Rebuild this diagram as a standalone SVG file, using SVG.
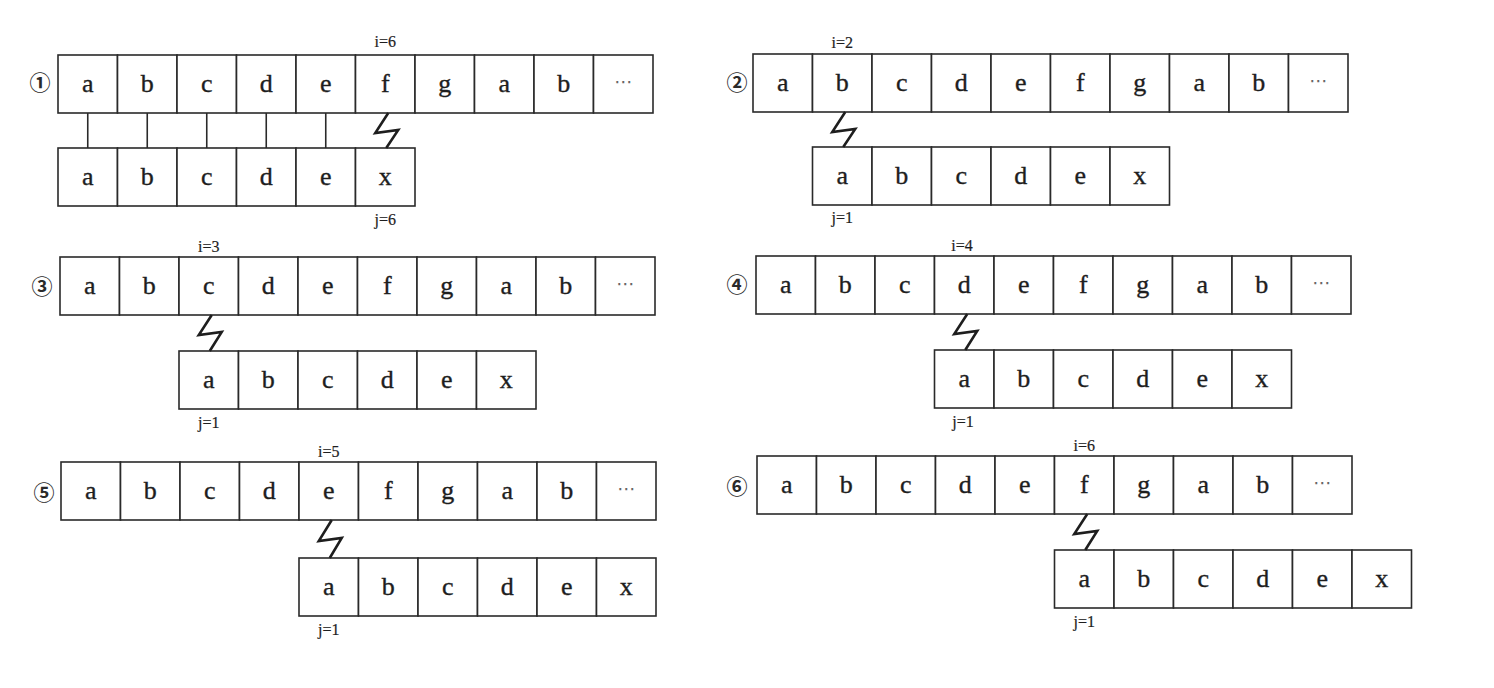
<svg xmlns="http://www.w3.org/2000/svg" width="1494" height="688" viewBox="0 0 1494 688">
<style>
.c{fill:#fff;stroke:#2a2a2a;stroke-width:1.6}
.t{font-family:"Liberation Serif","Times New Roman",serif;font-size:26px;fill:#1e1e1e;stroke:#1e1e1e;stroke-width:0.35;text-anchor:middle}
.d{font-family:"DejaVu Sans",sans-serif;font-size:18px;fill:#666;text-anchor:middle}
.l{font-family:"Liberation Serif","Times New Roman",serif;font-size:16px;fill:#1e1e1e;stroke:#1e1e1e;stroke-width:0.2;text-anchor:middle}
.n{font-family:"Noto Sans CJK SC","DejaVu Sans",sans-serif;font-size:21px;font-weight:700;fill:#2a2a2a;text-anchor:middle}
.v{stroke:#2a2a2a;stroke-width:1.6;fill:none}
.z{stroke:#1e1e1e;stroke-width:2.6;fill:none;stroke-linejoin:miter}
</style>
<rect width="1494" height="688" fill="#fff"/>

<g id="panel1">
<text class="n" x="40" y="90">①</text>
<text class="l" x="385.25" y="47">i=6</text>
<g id="p1-main">
<rect class="c" x="58" y="55" width="59.5" height="58"/><text class="t" x="87.75" y="92">a</text>
<rect class="c" x="117.5" y="55" width="59.5" height="58"/><text class="t" x="147.25" y="92">b</text>
<rect class="c" x="177" y="55" width="59.5" height="58"/><text class="t" x="206.75" y="92">c</text>
<rect class="c" x="236.5" y="55" width="59.5" height="58"/><text class="t" x="266.25" y="92">d</text>
<rect class="c" x="296" y="55" width="59.5" height="58"/><text class="t" x="325.75" y="92">e</text>
<rect class="c" x="355.5" y="55" width="59.5" height="58"/><text class="t" x="385.25" y="92">f</text>
<rect class="c" x="415" y="55" width="59.5" height="58"/><text class="t" x="444.75" y="92">g</text>
<rect class="c" x="474.5" y="55" width="59.5" height="58"/><text class="t" x="504.25" y="92">a</text>
<rect class="c" x="534" y="55" width="59.5" height="58"/><text class="t" x="563.75" y="92">b</text>
<rect class="c" x="593.5" y="55" width="59.5" height="58"/><text class="d" x="623.25" y="88">⋯</text>
</g>
<g id="p1-pattern">
<rect class="c" x="58" y="148" width="59.5" height="58"/><text class="t" x="87.75" y="185">a</text>
<rect class="c" x="117.5" y="148" width="59.5" height="58"/><text class="t" x="147.25" y="185">b</text>
<rect class="c" x="177" y="148" width="59.5" height="58"/><text class="t" x="206.75" y="185">c</text>
<rect class="c" x="236.5" y="148" width="59.5" height="58"/><text class="t" x="266.25" y="185">d</text>
<rect class="c" x="296" y="148" width="59.5" height="58"/><text class="t" x="325.75" y="185">e</text>
<rect class="c" x="355.5" y="148" width="59.5" height="58"/><text class="t" x="385.25" y="185">x</text>
</g>
<text class="l" x="385.25" y="225">j=6</text>
</g>

<g id="panel2">
<text class="n" x="737" y="90">②</text>
<text class="l" x="842.25" y="48">i=2</text>
<g id="p2-main">
<rect class="c" x="753" y="54" width="59.5" height="58"/><text class="t" x="782.75" y="91">a</text>
<rect class="c" x="812.5" y="54" width="59.5" height="58"/><text class="t" x="842.25" y="91">b</text>
<rect class="c" x="872" y="54" width="59.5" height="58"/><text class="t" x="901.75" y="91">c</text>
<rect class="c" x="931.5" y="54" width="59.5" height="58"/><text class="t" x="961.25" y="91">d</text>
<rect class="c" x="991" y="54" width="59.5" height="58"/><text class="t" x="1020.75" y="91">e</text>
<rect class="c" x="1050.5" y="54" width="59.5" height="58"/><text class="t" x="1080.25" y="91">f</text>
<rect class="c" x="1110" y="54" width="59.5" height="58"/><text class="t" x="1139.75" y="91">g</text>
<rect class="c" x="1169.5" y="54" width="59.5" height="58"/><text class="t" x="1199.25" y="91">a</text>
<rect class="c" x="1229" y="54" width="59.5" height="58"/><text class="t" x="1258.75" y="91">b</text>
<rect class="c" x="1288.5" y="54" width="59.5" height="58"/><text class="d" x="1318.25" y="87">⋯</text>
</g>
<g id="p2-pattern">
<rect class="c" x="812.5" y="147" width="59.5" height="58"/><text class="t" x="842.25" y="184">a</text>
<rect class="c" x="872" y="147" width="59.5" height="58"/><text class="t" x="901.75" y="184">b</text>
<rect class="c" x="931.5" y="147" width="59.5" height="58"/><text class="t" x="961.25" y="184">c</text>
<rect class="c" x="991" y="147" width="59.5" height="58"/><text class="t" x="1020.75" y="184">d</text>
<rect class="c" x="1050.5" y="147" width="59.5" height="58"/><text class="t" x="1080.25" y="184">e</text>
<rect class="c" x="1110" y="147" width="59.5" height="58"/><text class="t" x="1139.75" y="184">x</text>
</g>
<text class="l" x="842.25" y="223">j=1</text>
</g>

<g id="panel3">
<text class="n" x="42" y="294">③</text>
<text class="l" x="208.75" y="252">i=3</text>
<g id="p3-main">
<rect class="c" x="60" y="257" width="59.5" height="58"/><text class="t" x="89.75" y="294">a</text>
<rect class="c" x="119.5" y="257" width="59.5" height="58"/><text class="t" x="149.25" y="294">b</text>
<rect class="c" x="179" y="257" width="59.5" height="58"/><text class="t" x="208.75" y="294">c</text>
<rect class="c" x="238.5" y="257" width="59.5" height="58"/><text class="t" x="268.25" y="294">d</text>
<rect class="c" x="298" y="257" width="59.5" height="58"/><text class="t" x="327.75" y="294">e</text>
<rect class="c" x="357.5" y="257" width="59.5" height="58"/><text class="t" x="387.25" y="294">f</text>
<rect class="c" x="417" y="257" width="59.5" height="58"/><text class="t" x="446.75" y="294">g</text>
<rect class="c" x="476.5" y="257" width="59.5" height="58"/><text class="t" x="506.25" y="294">a</text>
<rect class="c" x="536" y="257" width="59.5" height="58"/><text class="t" x="565.75" y="294">b</text>
<rect class="c" x="595.5" y="257" width="59.5" height="58"/><text class="d" x="625.25" y="290">⋯</text>
</g>
<g id="p3-pattern">
<rect class="c" x="179" y="351" width="59.5" height="58"/><text class="t" x="208.75" y="388">a</text>
<rect class="c" x="238.5" y="351" width="59.5" height="58"/><text class="t" x="268.25" y="388">b</text>
<rect class="c" x="298" y="351" width="59.5" height="58"/><text class="t" x="327.75" y="388">c</text>
<rect class="c" x="357.5" y="351" width="59.5" height="58"/><text class="t" x="387.25" y="388">d</text>
<rect class="c" x="417" y="351" width="59.5" height="58"/><text class="t" x="446.75" y="388">e</text>
<rect class="c" x="476.5" y="351" width="59.5" height="58"/><text class="t" x="506.25" y="388">x</text>
</g>
<text class="l" x="208.75" y="428">j=1</text>
</g>

<g id="panel4">
<text class="n" x="737" y="292">④</text>
<text class="l" x="962" y="251">i=4</text>
<g id="p4-main">
<rect class="c" x="756" y="256" width="59.5" height="58"/><text class="t" x="785.75" y="293">a</text>
<rect class="c" x="815.5" y="256" width="59.5" height="58"/><text class="t" x="845.25" y="293">b</text>
<rect class="c" x="875" y="256" width="59.5" height="58"/><text class="t" x="904.75" y="293">c</text>
<rect class="c" x="934.5" y="256" width="59.5" height="58"/><text class="t" x="964.25" y="293">d</text>
<rect class="c" x="994" y="256" width="59.5" height="58"/><text class="t" x="1023.75" y="293">e</text>
<rect class="c" x="1053.5" y="256" width="59.5" height="58"/><text class="t" x="1083.25" y="293">f</text>
<rect class="c" x="1113" y="256" width="59.5" height="58"/><text class="t" x="1142.75" y="293">g</text>
<rect class="c" x="1172.5" y="256" width="59.5" height="58"/><text class="t" x="1202.25" y="293">a</text>
<rect class="c" x="1232" y="256" width="59.5" height="58"/><text class="t" x="1261.75" y="293">b</text>
<rect class="c" x="1291.5" y="256" width="59.5" height="58"/><text class="d" x="1321.25" y="289">⋯</text>
</g>
<g id="p4-pattern">
<rect class="c" x="934.5" y="350" width="59.5" height="58"/><text class="t" x="964.25" y="387">a</text>
<rect class="c" x="994" y="350" width="59.5" height="58"/><text class="t" x="1023.75" y="387">b</text>
<rect class="c" x="1053.5" y="350" width="59.5" height="58"/><text class="t" x="1083.25" y="387">c</text>
<rect class="c" x="1113" y="350" width="59.5" height="58"/><text class="t" x="1142.75" y="387">d</text>
<rect class="c" x="1172.5" y="350" width="59.5" height="58"/><text class="t" x="1202.25" y="387">e</text>
<rect class="c" x="1232" y="350" width="59.5" height="58"/><text class="t" x="1261.75" y="387">x</text>
</g>
<text class="l" x="963" y="427">j=1</text>
</g>

<g id="panel5">
<text class="n" x="44" y="500">⑤</text>
<text class="l" x="328.75" y="457">i=5</text>
<g id="p5-main">
<rect class="c" x="61" y="462" width="59.5" height="58"/><text class="t" x="90.75" y="499">a</text>
<rect class="c" x="120.5" y="462" width="59.5" height="58"/><text class="t" x="150.25" y="499">b</text>
<rect class="c" x="180" y="462" width="59.5" height="58"/><text class="t" x="209.75" y="499">c</text>
<rect class="c" x="239.5" y="462" width="59.5" height="58"/><text class="t" x="269.25" y="499">d</text>
<rect class="c" x="299" y="462" width="59.5" height="58"/><text class="t" x="328.75" y="499">e</text>
<rect class="c" x="358.5" y="462" width="59.5" height="58"/><text class="t" x="388.25" y="499">f</text>
<rect class="c" x="418" y="462" width="59.5" height="58"/><text class="t" x="447.75" y="499">g</text>
<rect class="c" x="477.5" y="462" width="59.5" height="58"/><text class="t" x="507.25" y="499">a</text>
<rect class="c" x="537" y="462" width="59.5" height="58"/><text class="t" x="566.75" y="499">b</text>
<rect class="c" x="596.5" y="462" width="59.5" height="58"/><text class="d" x="626.25" y="495">⋯</text>
</g>
<g id="p5-pattern">
<rect class="c" x="299" y="558" width="59.5" height="58"/><text class="t" x="328.75" y="595">a</text>
<rect class="c" x="358.5" y="558" width="59.5" height="58"/><text class="t" x="388.25" y="595">b</text>
<rect class="c" x="418" y="558" width="59.5" height="58"/><text class="t" x="447.75" y="595">c</text>
<rect class="c" x="477.5" y="558" width="59.5" height="58"/><text class="t" x="507.25" y="595">d</text>
<rect class="c" x="537" y="558" width="59.5" height="58"/><text class="t" x="566.75" y="595">e</text>
<rect class="c" x="596.5" y="558" width="59.5" height="58"/><text class="t" x="626.25" y="595">x</text>
</g>
<text class="l" x="328.75" y="635">j=1</text>
</g>

<g id="panel6">
<text class="n" x="737" y="494">⑥</text>
<text class="l" x="1084.25" y="451">i=6</text>
<g id="p6-main">
<rect class="c" x="757" y="456" width="59.5" height="58"/><text class="t" x="786.75" y="493">a</text>
<rect class="c" x="816.5" y="456" width="59.5" height="58"/><text class="t" x="846.25" y="493">b</text>
<rect class="c" x="876" y="456" width="59.5" height="58"/><text class="t" x="905.75" y="493">c</text>
<rect class="c" x="935.5" y="456" width="59.5" height="58"/><text class="t" x="965.25" y="493">d</text>
<rect class="c" x="995" y="456" width="59.5" height="58"/><text class="t" x="1024.75" y="493">e</text>
<rect class="c" x="1054.5" y="456" width="59.5" height="58"/><text class="t" x="1084.25" y="493">f</text>
<rect class="c" x="1114" y="456" width="59.5" height="58"/><text class="t" x="1143.75" y="493">g</text>
<rect class="c" x="1173.5" y="456" width="59.5" height="58"/><text class="t" x="1203.25" y="493">a</text>
<rect class="c" x="1233" y="456" width="59.5" height="58"/><text class="t" x="1262.75" y="493">b</text>
<rect class="c" x="1292.5" y="456" width="59.5" height="58"/><text class="d" x="1322.25" y="489">⋯</text>
</g>
<g id="p6-pattern">
<rect class="c" x="1054.5" y="550" width="59.5" height="58"/><text class="t" x="1084.25" y="587">a</text>
<rect class="c" x="1114" y="550" width="59.5" height="58"/><text class="t" x="1143.75" y="587">b</text>
<rect class="c" x="1173.5" y="550" width="59.5" height="58"/><text class="t" x="1203.25" y="587">c</text>
<rect class="c" x="1233" y="550" width="59.5" height="58"/><text class="t" x="1262.75" y="587">d</text>
<rect class="c" x="1292.5" y="550" width="59.5" height="58"/><text class="t" x="1322.25" y="587">e</text>
<rect class="c" x="1352" y="550" width="59.5" height="58"/><text class="t" x="1381.75" y="587">x</text>
</g>
<text class="l" x="1084.25" y="627">j=1</text>
</g>

<g id="connectors">
<line class="v" x1="87.75" y1="113" x2="87.75" y2="148"/>
<line class="v" x1="147.25" y1="113" x2="147.25" y2="148"/>
<line class="v" x1="206.75" y1="113" x2="206.75" y2="148"/>
<line class="v" x1="266.25" y1="113" x2="266.25" y2="148"/>
<line class="v" x1="325.75" y1="113" x2="325.75" y2="148"/>
<path class="z" d="M388.25,113 L375.25,133 L398.25,130 L386.25,148"/>
<path class="z" d="M845.25,112 L832.25,132 L855.25,129 L843.25,147"/>
<path class="z" d="M211.75,315 L198.75,335 L221.75,332 L209.75,351"/>
<path class="z" d="M967.25,314 L954.25,334 L977.25,331 L965.25,350"/>
<path class="z" d="M331.75,520 L318.75,541 L341.75,538 L329.75,558"/>
<path class="z" d="M1087.25,514 L1074.25,534 L1097.25,531 L1085.25,550"/>
</g>
</svg>
